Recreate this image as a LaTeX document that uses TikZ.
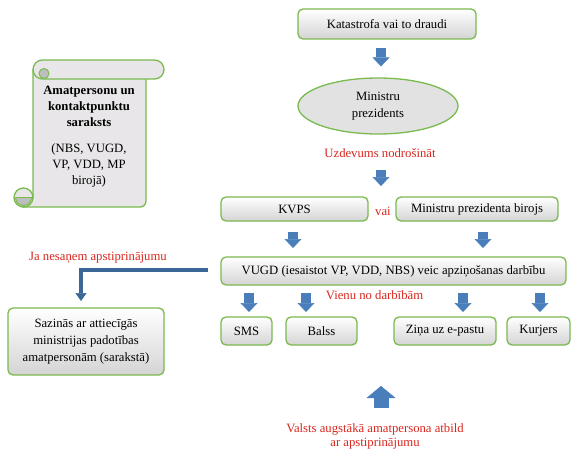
\documentclass[tikz,border=0pt]{standalone}
\usepackage{fontspec}
\setmainfont{Liberation Serif}
\usepackage{tikz}
\usetikzlibrary{arrows.meta,positioning,shapes.geometric,calc}

\definecolor{boxgreen}{RGB}{122,186,78}
\definecolor{boxgray}{RGB}{212,212,212}
\definecolor{ovalgray}{RGB}{226,226,226}
\definecolor{scrollgray}{RGB}{232,230,232}
\definecolor{curlgray}{RGB}{190,190,190}
\definecolor{arrblue}{RGB}{74,126,187}
\definecolor{bentblue}{RGB}{58,102,152}
\definecolor{notered}{RGB}{218,37,29}

\begin{document}
\begin{tikzpicture}[
  x=1pt, y=-1pt,
  font=\fontsize{12.7}{17}\selectfont,
  box/.style={draw=boxgreen, line width=1.3pt, rounded corners=5pt, top color=white, bottom color=boxgray, inner sep=0pt, outer sep=0pt, align=center},
  oval/.style={ellipse, draw=boxgreen, line width=1.3pt, fill=ovalgray, inner sep=0pt, align=center},
  note/.style={text=notered, inner sep=0pt, align=center},
  scroll/.style={draw=boxgreen, line width=1.3pt, fill=scrollgray},
  curl/.style={draw=boxgreen, line width=1pt, fill=curlgray},
  barr/.style={draw=arrblue, line width=10pt, -{Triangle[width=17pt,length=9pt,line width=0.5pt]}},
  bent/.style={draw=bentblue, line width=4pt, -{Triangle[width=11pt,length=8pt,line width=0.5pt]}}
]
\useasboundingbox (0,0) rectangle (580,460);

% list of contact persons (scroll)
\draw[scroll] (33,70) -- (33,198) -- (23.5,207) -- (140,207) arc[start angle=90, end angle=0, radius=6] -- (146,70) -- cycle;
\draw[scroll, rounded corners=9.5pt] (33,60) rectangle (164,79);
\draw[curl] (44,73.5) circle[radius=5];
\draw[scroll] (23.5,197.5) circle[radius=9.5];
\draw[curl] (15.5,197.5) arc[start angle=180, end angle=0, radius=8];
\draw[boxgreen, line width=1pt] (15.5,197.5) -- (33,197.5);
\node[align=center, font=\fontsize{12.7}{16}\selectfont] (lst) at (89,137)
  {\textbf{Amatpersonu un}\\\textbf{kontaktpunktu}\\\textbf{saraksts}\\[10pt](NBS, VUGD,\\VP, VDD, MP\\birojā)};

% main chain
\node[box, minimum width=178pt, minimum height=30pt] (kat) at (387,24) {Katastrofa vai to draudi};
\node[oval, minimum width=160pt, minimum height=56pt] (mp) at (378,106) {Ministru\\prezidents};
\node[note] (uzd) at (380,153) {Uzdevums nodrošināt};
\node[box, minimum width=147pt, minimum height=24pt] (kvps) at (294.5,209) {KVPS};
\node[box, minimum width=162pt, minimum height=24pt, right=28pt of kvps] (mpb) {Ministru prezidenta birojs};
\node[note] (vai) at (383,211) {vai};
\node[box, minimum width=345pt, minimum height=28pt] (vugd) at (393.5,271) {VUGD (iesaistot VP, VDD, NBS) veic apziņošanas darbību};
\node[note] (vienu) at (374.5,295) {Vienu no darbībām};

% ways of notification
\node[box, minimum width=51pt, minimum height=28pt] (sms) at (246.5,331) {SMS};
\node[box, minimum width=71pt, minimum height=28pt, right=14pt of sms] (balss) {Balss};
\node[box, minimum width=102pt, minimum height=28pt, right=37pt of balss] (zina) {Ziņa uz e-pastu};
\node[box, minimum width=63pt, minimum height=28pt, right=11pt of zina] (kurj) {Kurjers};

% no confirmation
\node[note] (ja) at (98,258) {Ja nesaņem apstiprinājumu};
\node[box, minimum width=156pt, minimum height=67pt] (saz) at (86,341.5) {Sazinās ar attiecīgās\\ministrijas padotības\\amatpersonām (sarakstā)};
\node[note, font=\fontsize{12.7}{14}\selectfont] (valsts) at (375,436) {Valsts augstākā amatpersona atbild\\ar apstiprinājumu};

\draw[barr] ($(kat.south)+(-6,9)$) -- ($(mp.north)+(3,-11)$);
\draw[barr] ($(uzd)+(1,17)$) -- ($(uzd)+(1,33)$);
\draw[barr] ($(kvps.south)+(-1.5,11)$) -- ($(kvps.south |- vugd.north)+(-1.5,-9)$);
\draw[barr] ($(mpb.south)+(6,11)$) -- ($(mpb.south |- vugd.north)+(6,-9)$);
\draw[barr] ($(sms.north |- vugd.south)+(2.5,8)$) -- ($(sms.north)+(2.5,-5)$);
\draw[barr] ($(balss.north |- vugd.south)+(-15.5,8)$) -- ($(balss.north)+(-15.5,-5)$);
\draw[barr] ($(zina.north |- vugd.south)+(18,8)$) -- ($(zina.north)+(18,-5)$);
\draw[barr] ($(kurj.north |- vugd.south)+(1.5,8)$) -- ($(kurj.north)+(1.5,-5)$);
\draw[barr, line width=15pt, -{Triangle[width=29pt,length=12pt,line width=0.5pt]}] ($(valsts)+(6,-28)$) -- ($(valsts)+(6,-50)$);
\draw[bent] ($(vugd.west)+(-13,-1)$) -| ($(saz.north)+(-5,-7)$);
\end{tikzpicture}
\end{document}
